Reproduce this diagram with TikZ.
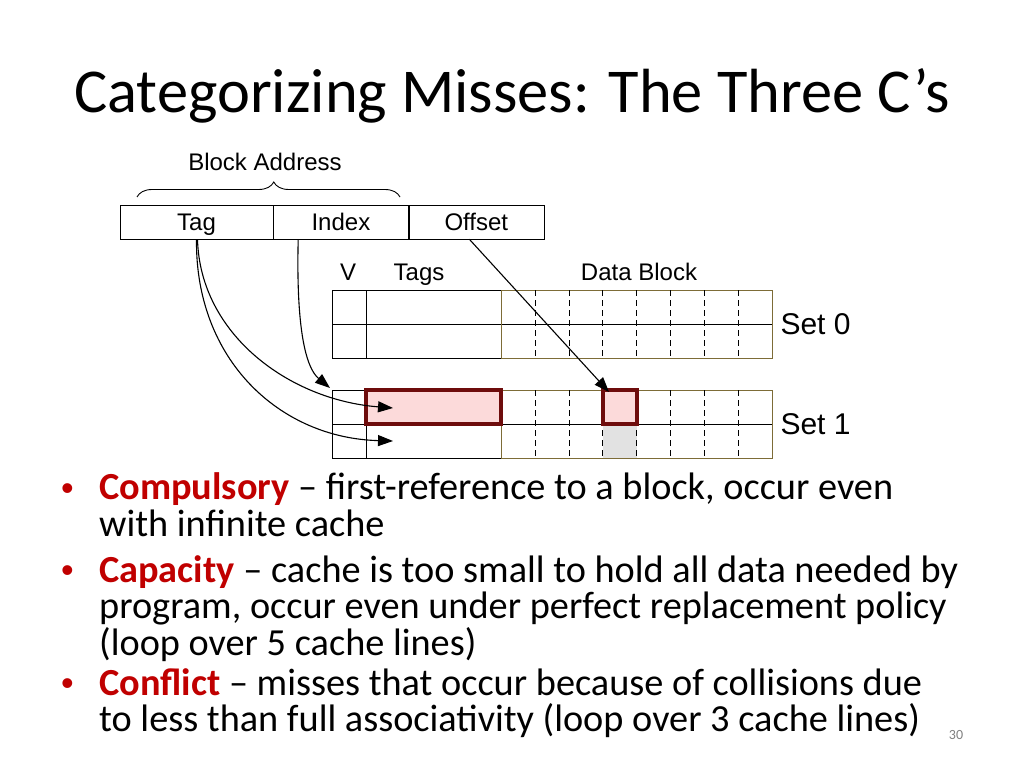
\documentclass[tikz,border=0pt]{standalone}
\usepackage{fontspec}
\setmainfont{Carlito}
\newfontfamily\diagfont{Liberation Sans}
\usetikzlibrary{arrows.meta,decorations.pathreplacing,positioning,calc}
\definecolor{termred}{RGB}{192,0,0}
\definecolor{hotedge}{RGB}{110,12,12}
\definecolor{hotfill}{RGB}{252,218,218}
\definecolor{dataedge}{RGB}{125,108,55}
\definecolor{cellgray}{RGB}{226,226,226}
\newcommand{\term}[1]{\textcolor{termred}{\textbf{#1}}}
\tikzset{
  field/.style={draw,minimum height=34pt,inner sep=0pt,text height=20pt,text depth=4pt,
    font=\diagfont\fontsize{24}{26}\selectfont},
  lbl/.style={anchor=base,font=\diagfont\fontsize{24}{26}\selectfont},
  setlbl/.style={anchor=west,font=\diagfont\fontsize{30}{32}\selectfont},
  ptr/.style={-{Triangle[length=15pt,width=11pt]},line width=1.1pt},
  hotbox/.style={draw=hotedge,line width=3.5pt,fill=hotfill},
  bul/.style={anchor=base west,align=left,inner sep=0pt,
    font=\fontsize{38.3}{36.5}\selectfont},
  dot/.style={anchor=base west,inner sep=0pt,text=termred,
    font=\diagfont\fontsize{36}{36}\selectfont},
}

\begin{document}
\begin{tikzpicture}[x=1pt,y=-1pt]
  \useasboundingbox (0,0) rectangle (1024,767);

  % Title
  \node[anchor=base,font=\fontsize{62.4}{66}\selectfont] (title) at (512,113)
    {Categorizing Misses: The Three C’s};

  % Address fields
  \node[field,minimum width=153pt] (tag) at (196.5,222) {Tag};
  \node[field,minimum width=135pt,right=0pt of tag] (index) {Index};
  \node[field,minimum width=135pt,right=0pt of index] (offset) {Offset};

  % Brace over tag and index
  \draw[line width=0.9pt,decorate,decoration={brace,amplitude=15pt,aspect=0.52}]
    (137,197) -- (400,197);
  \node[lbl] (blockaddr) at (265,171) {Block Address};

  % Column heads
  \node[lbl] (vhead) at (348,280) {V};
  \node[lbl] (taghead) at (419,280) {Tags};
  \node[lbl] (datahead) at (639,280) {Data Block};

  % Highlighted cell under the conflict
  \fill[cellgray] (603,424) rectangle (637,458);

  % Two sets, two lines each
  \foreach \top in {290,390} {
    \draw (332,\top) rectangle (501,\top+68);
    \draw (366,\top) -- (366,\top+68);
    \draw (332,\top+34) -- (772,\top+34);
    \draw[dataedge] (501,\top) rectangle (772,\top+68);
    \foreach \k in {1,...,7}
      \draw[dash pattern=on 6pt off 4pt] (501+33.875*\k,\top) -- ++(0,68);
  }

  % Hit tag and word in set 1
  \draw[hotbox] (366,390) rectangle (501,424);
  \draw[hotbox] (603,390) rectangle (637,424);

  % Set labels
  \node[setlbl] (set0) at (777,324) {Set 0};
  \node[setlbl] (set1) at (777,424) {Set 1};

  % Pointers from the address
  \coordinate (idxtap) at ($(index.south west)+(25,0)$);
  \coordinate (setcorner) at (330,388);
  \coordinate (rowa) at (393,408);
  \coordinate (rowb) at (393,441);
  \coordinate (word) at (609,392);
  \draw[ptr] (idxtap) .. controls (296,330) and (306,368) .. (setcorner);
  \draw[ptr] ([xshift=1pt]tag.south) .. controls (200,335) and (290,400) .. (rowa);
  \draw[ptr] (tag.south) .. controls (195,360) and (280,438) .. (rowb);
  \draw[ptr] ([xshift=-7pt]offset.south) -- (word);

  % Bullets (base anchor sits on the last line)
  \node[dot] (dot1) at (61,500) {•};
  \node[bul] (comp) at (99,536)
    {\term{Compulsory} – first-reference to a block, occur even\\
     with infinite cache};
  \node[dot] (dot2) at (61,582) {•};
  \node[bul] (capa) at (99,655)
    {\term{Capacity} – cache is too small to hold all data needed by\\
     program, occur even under perfect replacement policy\\
     (loop over 5 cache lines)};
  \node[dot] (dot3) at (61,695) {•};
  \node[bul] (conf) at (99,731.5)
    {\term{Conflict} – misses that occur because of collisions due\\
     to less than full associativity (loop over 3 cache lines)};

  % Slide number
  \node[anchor=base,text=gray,font=\fontsize{14}{16}\selectfont] (pagenum) at (956,739) {30};
\end{tikzpicture}
\end{document}
